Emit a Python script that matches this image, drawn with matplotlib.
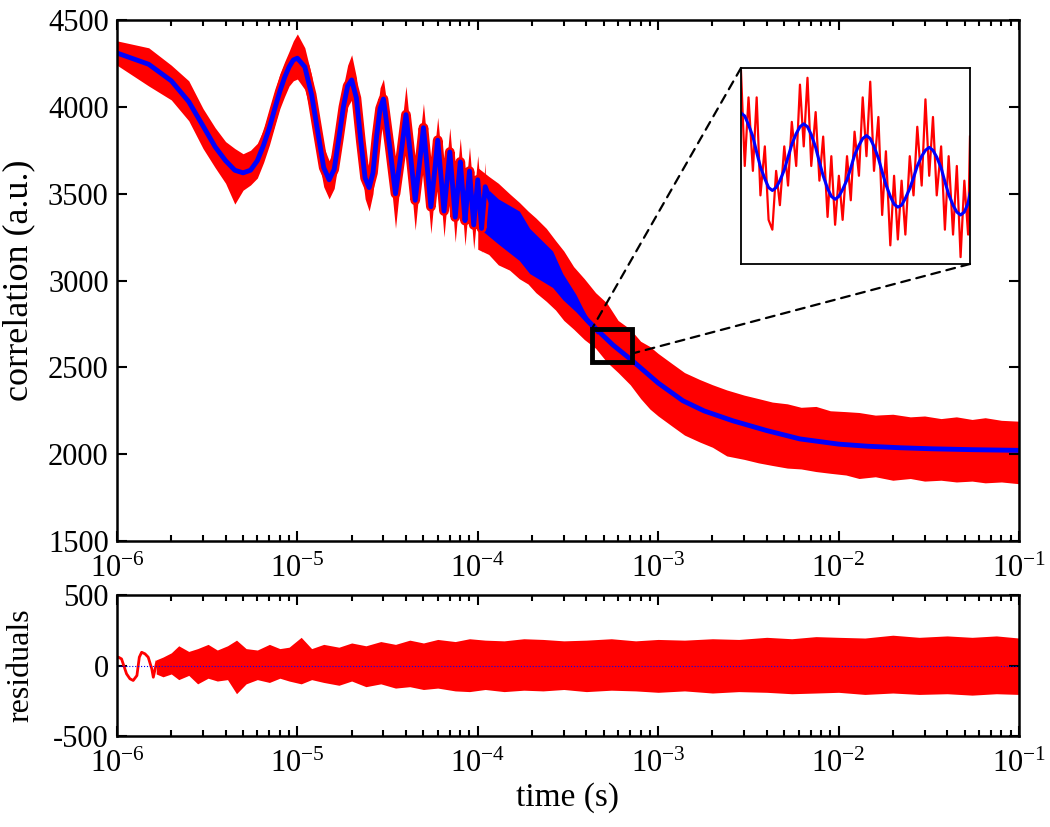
import matplotlib
matplotlib.use("Agg")
import matplotlib.pyplot as plt
from matplotlib.patches import Rectangle, ConnectionPatch

# fitted curve (blue)
fit_t = [1.0e-6, 1.5e-6, 2.0e-6, 2.5e-6, 3.0e-6, 3.5e-6, 4.0e-6, 4.5e-6, 5.0e-6, 5.5e-6,
         6.0e-6, 6.5e-6, 7.0e-6, 7.5e-6, 8.0e-6, 8.5e-6, 9.0e-6, 9.5e-6,
         1.0e-5, 1.1e-5, 1.2e-5, 1.3e-5, 1.4e-5, 1.5e-5, 1.6e-5, 1.7e-5, 1.8e-5, 1.9e-5,
         2.0e-5, 2.125e-5, 2.25e-5, 2.375e-5, 2.5e-5, 2.625e-5, 2.75e-5, 2.875e-5,
         3.0e-5, 3.25e-5, 3.5e-5, 3.75e-5, 4.0e-5, 4.25e-5, 4.5e-5, 4.75e-5,
         5.0e-5, 5.25e-5, 5.5e-5, 5.75e-5, 6.0e-5, 6.25e-5, 6.5e-5, 6.75e-5,
         7.0e-5, 7.25e-5, 7.5e-5, 7.75e-5, 8.0e-5, 8.25e-5, 8.5e-5, 8.75e-5,
         9.0e-5, 9.5e-5, 1.0e-4, 1.05e-4, 1.1e-4,
         1.3e-4, 1.7e-4, 1.94e-4, 2.6e-4, 2.96e-4, 3.5e-4, 4.0e-4, 4.6e-4, 5.6e-4, 7.2e-4,
         1.0e-3, 1.37e-3, 1.8e-3, 2.6e-3, 4.0e-3, 6.1e-3, 1.0e-2, 1.44e-2, 2.2e-2, 3.3e-2,
         5.5e-2, 1.0e-1]
fit_v = [4310, 4245, 4150, 4030, 3890, 3770, 3690, 3635, 3620, 3635,
         3690, 3780, 3880, 3990, 4090, 4170, 4230, 4270,
         4280, 4230, 4070, 3850, 3650, 3580, 3640, 3820, 4000, 4120,
         4155, 4050, 3800, 3590, 3535, 3620, 3830, 3990,
         4045, 3770, 3500, 3725, 3955, 3710, 3462, 3670,
         3880, 3650, 3425, 3615, 3808, 3605, 3400, 3570,
         3740, 3550, 3365, 3525, 3683, 3515, 3345, 3490,
         3630, 3320, 3580, 3300, 3540,
         3340, 3255, 3170, 3060, 2965, 2870, 2778, 2715, 2630, 2538,
         2410, 2308, 2249, 2192, 2136, 2088, 2058, 2046, 2037, 2031,
         2026, 2022]

# measured data (red) around the resolved oscillations: lower / upper envelope
osc_lo = [4240, 4120, 4040, 3920, 3760, 3650, 3560, 3440, 3520, 3550,
          3590, 3680, 3780, 3890, 3990, 4060, 4120, 4150,
          4160, 4100, 3940, 3720, 3540, 3470, 3530, 3700, 3880, 4000,
          4040, 3930, 3680, 3470, 3400, 3500, 3710, 3870,
          3930, 3640, 3300, 3600, 3830, 3580, 3290, 3540,
          3760, 3520, 3270, 3490, 3680, 3480, 3250, 3440,
          3610, 3420, 3220, 3390, 3550, 3380, 3200, 3350,
          3490, 3180, 3430, 3160, 3390]
osc_hi = [4380, 4340, 4240, 4150, 3990, 3880, 3800, 3760, 3730, 3750,
          3790, 3870, 3980, 4090, 4190, 4260, 4320, 4380,
          4420, 4340, 4180, 3960, 3770, 3690, 3760, 3940, 4120, 4240,
          4300, 4170, 3930, 3710, 3650, 3740, 3950, 4110,
          4160, 3900, 3620, 3850, 4120, 3840, 3580, 3800,
          4020, 3780, 3550, 3750, 3940, 3740, 3530, 3700,
          3880, 3690, 3500, 3660, 3820, 3650, 3490, 3630,
          3770, 3470, 3720, 3450, 3680]

# measured data (red) where it becomes a dense noisy band
noise_t = [1.0e-4, 1.15e-4, 1.3e-4, 1.5e-4, 1.7e-4, 1.9e-4, 2.1e-4, 2.4e-4, 2.7e-4, 3.0e-4,
           3.4e-4, 3.9e-4, 4.5e-4, 5.2e-4, 6.0e-4, 7.0e-4, 8.0e-4, 9.0e-4, 1.0e-3, 1.2e-3,
           1.4e-3, 1.7e-3, 2.0e-3, 2.4e-3, 3.0e-3, 3.6e-3, 4.3e-3, 5.2e-3, 6.2e-3, 7.5e-3,
           9.0e-3, 1.1e-2, 1.3e-2, 1.6e-2, 2.0e-2, 2.5e-2, 3.0e-2, 3.7e-2, 4.5e-2, 5.5e-2,
           6.5e-2, 8.0e-2, 1.0e-1]
noise_lo = [3180, 3150, 3090, 3060, 3010, 2980, 2930, 2880, 2830, 2770,
            2720, 2660, 2610, 2530, 2470, 2400, 2320, 2260, 2220, 2160,
            2110, 2070, 2040, 1990, 1970, 1950, 1935, 1920, 1915, 1900,
            1890, 1880, 1860, 1870, 1850, 1860, 1845, 1850, 1840, 1845,
            1835, 1840, 1830]
noise_hi = [3650, 3600, 3560, 3500, 3450, 3400, 3360, 3300, 3230, 3170,
            3080, 3010, 2930, 2870, 2770, 2720, 2650, 2620, 2580, 2520,
            2470, 2430, 2400, 2370, 2340, 2320, 2300, 2290, 2270, 2275,
            2250, 2245, 2240, 2225, 2230, 2215, 2220, 2205, 2215, 2200,
            2210, 2195, 2190]

# unresolved fast oscillation of the fit (blue band)
band_t = [1.05e-4, 1.3e-4, 1.7e-4, 1.94e-4, 2.6e-4, 2.96e-4, 3.5e-4, 4.0e-4, 4.6e-4]
band_lo = [3290, 3210, 3115, 3040, 2960, 2890, 2820, 2755, 2690]
band_hi = [3560, 3470, 3400, 3300, 3170, 3040, 2920, 2800, 2715]

# zoomed region marked on the main plot
box_t = (4.3e-4, 7.2e-4)
box_v = (2533, 2723)

# inset: time in microseconds, fit and data sampled on the same grid
inset_t = [550.0, 550.6, 551.2, 551.9, 552.5, 553.1, 553.8, 554.4, 555.0, 555.6,
           556.2, 556.9, 557.5, 558.1, 558.8, 559.4, 560.0, 560.6, 561.2, 561.9,
           562.5, 563.1, 563.8, 564.4, 565.0, 565.6, 566.2, 566.9, 567.5, 568.1,
           568.8, 569.4, 570.0, 570.6, 571.2, 571.9, 572.5, 573.1, 573.8, 574.4,
           575.0, 575.6, 576.2, 576.9, 577.5, 578.1, 578.8, 579.4, 580.0, 580.6,
           581.2, 581.9, 582.5, 583.1, 583.8, 584.4, 585.0, 585.6, 586.2, 586.5]
inset_fit = [2684, 2681, 2672, 2660, 2644, 2629, 2617, 2608, 2605, 2608,
             2615, 2626, 2639, 2652, 2663, 2670, 2673, 2670, 2662, 2649,
             2634, 2620, 2607, 2599, 2596, 2599, 2606, 2616, 2628, 2641,
             2651, 2658, 2661, 2658, 2650, 2638, 2624, 2611, 2599, 2591,
             2588, 2590, 2597, 2607, 2618, 2630, 2640, 2646, 2649, 2646,
             2639, 2628, 2614, 2601, 2590, 2583, 2580, 2583, 2592, 2602]
inset_data = [2727, 2630, 2700, 2625, 2700, 2600, 2650, 2575, 2565, 2625,
              2590, 2650, 2610, 2675, 2630, 2713, 2650, 2720, 2630, 2685,
              2615, 2660, 2578, 2640, 2570, 2620, 2575, 2640, 2595, 2665,
              2620, 2700, 2640, 2716, 2625, 2680, 2580, 2645, 2549, 2620,
              2555, 2615, 2560, 2640, 2600, 2670, 2610, 2698, 2620, 2680,
              2600, 2650, 2565, 2640, 2560, 2630, 2537, 2615, 2560, 2660]

# residuals: early resolved trace, then noisy band
res_t = [1.0e-6, 1.02e-6, 1.06e-6, 1.13e-6, 1.18e-6, 1.23e-6, 1.29e-6, 1.33e-6, 1.37e-6,
         1.43e-6, 1.49e-6, 1.56e-6, 1.59e-6, 1.66e-6]
res_v = [55, 59, 47, -59, -94, -106, -71, 59, 94, 83, 59, -24, -83, 24]
res_band_t = [1.65e-6, 1.8e-6, 2.0e-6, 2.2e-6, 2.5e-6, 2.8e-6, 3.2e-6, 3.6e-6, 4.1e-6, 4.6e-6,
              5.2e-6, 6.0e-6, 7.0e-6, 8.0e-6, 9.0e-6, 1.05e-5, 1.2e-5, 1.4e-5, 1.7e-5, 2.0e-5,
              2.4e-5, 2.9e-5, 3.5e-5, 4.2e-5, 5.0e-5, 6.0e-5, 7.5e-5, 9.0e-5, 1.1e-4, 1.4e-4,
              1.8e-4, 2.3e-4, 3.0e-4, 4.0e-4, 5.5e-4, 7.5e-4, 1.0e-3, 1.4e-3, 2.0e-3, 2.8e-3,
              4.0e-3, 5.5e-3, 7.5e-3, 1.0e-2, 1.4e-2, 2.0e-2, 2.8e-2, 4.0e-2, 5.5e-2, 7.5e-2, 1.0e-1]
res_lo = [-60, -80, -60, -100, -70, -130, -90, -110, -100, -200,
          -130, -100, -120, -90, -110, -130, -100, -120, -140, -110,
          -150, -130, -160, -150, -170, -160, -180, -185, -170, -185,
          -175, -180, -170, -185, -175, -180, -190, -180, -195, -185,
          -190, -200, -195, -190, -205, -195, -205, -200, -210, -200, -205]
res_hi = [40, 60, 90, 140, 100, 120, 150, 110, 140, 180,
          120, 110, 150, 120, 130, 200, 120, 150, 130, 160,
          140, 170, 150, 180, 160, 185, 170, 190, 180, 175,
          190, 185, 175, 180, 190, 175, 185, 180, 190, 185,
          200, 190, 205, 200, 195, 215, 200, 210, 200, 210, 195]

corr_ticks = [1500, 2000, 2500, 3000, 3500, 4000, 4500]
res_ticks = [-500, 0, 500]

plt.rcParams['font.family'] = ['Liberation Serif', 'DejaVu Serif']
plt.rcParams['mathtext.fontset'] = 'custom'
plt.rcParams['mathtext.rm'] = 'Liberation Serif'
plt.rcParams['axes.unicode_minus'] = False
plt.rcParams['font.size'] = 22


def style_axes(ax):
    ax.set_xscale('log')
    ax.set_xlim(1e-6, 1e-1)
    ax.tick_params(which='both', direction='in', top=True, right=True, width=1.5)
    ax.tick_params(axis='y', pad=6)
    ax.tick_params(axis='x', pad=10)
    ax.tick_params(which='major', length=7)
    ax.tick_params(which='minor', length=4)
    for s in ax.spines.values():
        s.set_linewidth(1.8)


fig = plt.figure(figsize=(10.5, 8.27), dpi=100)

ax = fig.add_axes([0.1114, 0.3458, 0.8590, 0.6300])
n_osc = len(osc_lo)
ax.fill_between(fit_t[:n_osc], osc_lo, osc_hi, color='red', lw=0)
ax.plot(fit_t[:n_osc], fit_v[:n_osc], color='red', lw=7)
ax.fill_between(noise_t, noise_lo, noise_hi, color='red', lw=0)
ax.fill_between(band_t, band_lo, band_hi, color='blue', lw=0)
ax.plot(fit_t, fit_v, color='blue', lw=3.5)
ax.add_patch(Rectangle((box_t[0], box_v[0]), box_t[1] - box_t[0], box_v[1] - box_v[0],
                       fill=False, ec='black', lw=3.5, zorder=5))
style_axes(ax)
ax.set_ylim(1500, 4500)
ax.set_yticks(corr_ticks)
ax.set_ylabel('correlation (a.u.)', fontsize=26)
ax.yaxis.set_label_coords(-0.091, 0.5)

axin = fig.add_axes([0.7057, 0.6808, 0.2181, 0.2370])
axin.plot(inset_t, inset_data, color='red', lw=1.6)
axin.plot(inset_t, inset_fit, color='blue', lw=2.2)
axin.set_xlim(inset_t[0], inset_t[-1])
axin.set_ylim(2530, 2730)
axin.set_xticks([])
axin.set_yticks([])
for s in axin.spines.values():
    s.set_linewidth(1.3)

for xa, xb in [((0, 1), (box_t[0], box_v[1])), ((1, 0), (box_t[1], 2580))]:
    con = ConnectionPatch(xyA=xa, coordsA=axin.transAxes, xyB=xb, coordsB=ax.transData,
                          ls=(0, (4, 3)), lw=1.6, color='black')
    fig.add_artist(con)

ax2 = fig.add_axes([0.1114, 0.1100, 0.8590, 0.1705])
ax2.plot(res_t, res_v, color='red', lw=2)
ax2.fill_between(res_band_t, res_lo, res_hi, color='red', lw=0)
ax2.axhline(0, color='blue', lw=0.8, ls=':')
style_axes(ax2)
ax2.set_ylim(-500, 500)
ax2.set_yticks(res_ticks)
ax2.set_ylabel('residuals', fontsize=23)
ax2.yaxis.set_label_coords(-0.091, 0.5)
ax2.set_xlabel('time (s)', fontsize=24)
ax2.xaxis.set_label_coords(0.5, -0.33)

fig.savefig('out.png', dpi=100)
